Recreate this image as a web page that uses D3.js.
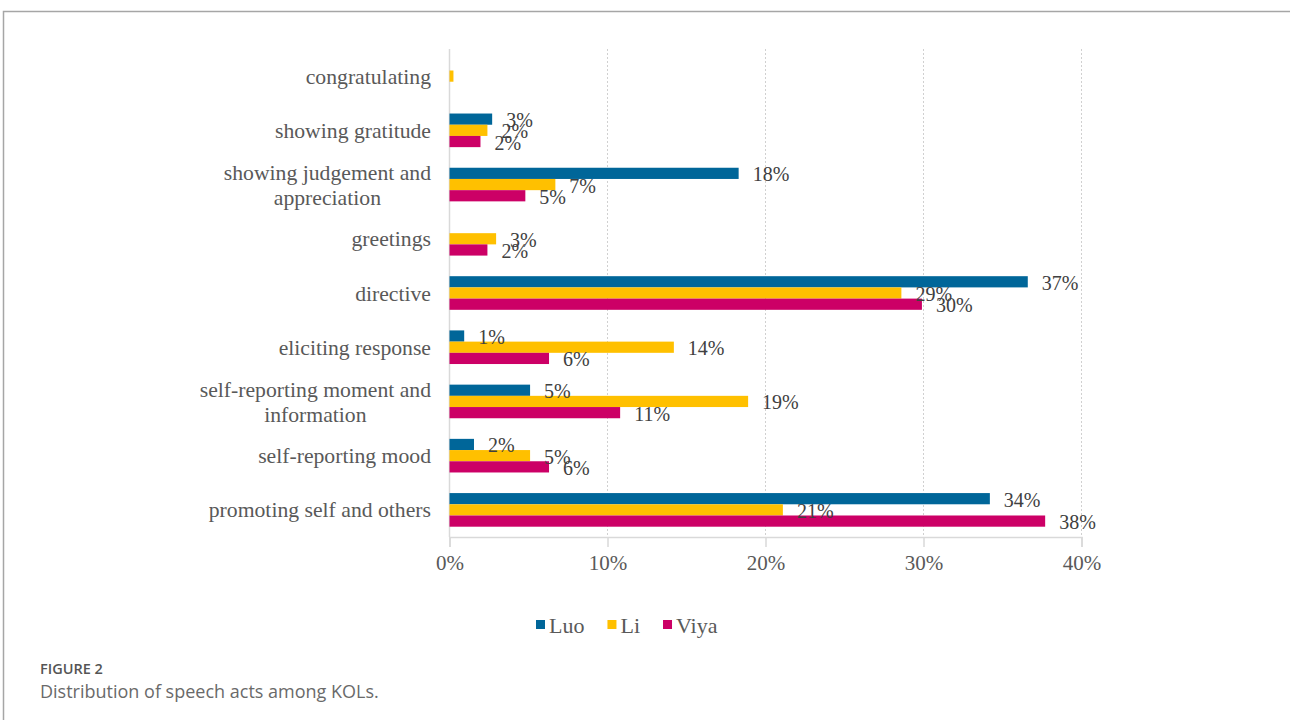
<!DOCTYPE html>
<html>
<head>
<meta charset="utf-8">
<script src="https://cdn.jsdelivr.net/npm/d3@7"></script>
<style>
  html, body { margin: 0; padding: 0; background: #fff; }
  svg { display: block; }
</style>
</head>
<body>
<div id="chart"></div>
<script>
// categories, top to bottom
const categories = [
  'congratulating',
  'showing gratitude',
  'showing judgement and appreciation',
  'greetings',
  'directive',
  'eliciting response',
  'self-reporting moment and information',
  'self-reporting mood',
  'promoting self and others'
];
// line breaks for the long category names
const categoryLines = {
  'showing judgement and appreciation': ['showing judgement and', 'appreciation'],
  'self-reporting moment and information': ['self-reporting moment and', 'information']
};
const seriesNames = ['Luo', 'Li', 'Viya'];
const luo  = [0,     0.027, 0.183, 0,     0.366, 0.0093, 0.051, 0.0155, 0.342];
const li   = [0.0025, 0.024, 0.067, 0.0295, 0.286, 0.142, 0.189, 0.051, 0.211];
const viya = [0,     0.0196, 0.048, 0.024, 0.299, 0.063, 0.108, 0.063, 0.377];
const xTicks = [0, 0.1, 0.2, 0.3, 0.4];
const colors = ['#006699', '#ffc000', '#cc0066'];

const W = 1290, H = 720;
const plot = { left: 449.5, right: 1081.5, top: 49, bottom: 537 };
const serif = '"Liberation Serif", "Times New Roman", serif';

const svg = d3.select('#chart').append('svg')
  .attr('width', W)
  .attr('height', H);

// frame around the figure
svg.append('path')
  .attr('d', `M3.5,${H} V11.5 H${W}`)
  .attr('fill', 'none')
  .attr('stroke', '#a6a6a6')
  .attr('stroke-width', 1.5);

const x = d3.scaleLinear().domain([0, 0.4]).range([plot.left, plot.right]);
const y = d3.scaleBand().domain(categories).range([plot.top, plot.bottom]).padding(0);
const groupPad = y.bandwidth() * 0.19;
const ySub = d3.scaleBand().domain(seriesNames)
  .range([groupPad, y.bandwidth() - groupPad]).padding(0);

// dotted gridlines
svg.append('g')
  .selectAll('line')
  .data(xTicks.slice(1))
  .enter()
  .append('line')
  .attr('x1', d => x(d)).attr('x2', d => x(d))
  .attr('y1', plot.top).attr('y2', plot.bottom)
  .attr('stroke', '#d0d0d0')
  .attr('stroke-width', 1)
  .attr('stroke-dasharray', '2,2');

// vertical axis line at 0
svg.append('line')
  .attr('x1', x(0)).attr('x2', x(0))
  .attr('y1', plot.top).attr('y2', plot.bottom)
  .attr('stroke', '#d9d9d9')
  .attr('stroke-width', 1.5);

// x axis
const xAxis = d3.axisBottom(x)
  .tickValues(xTicks)
  .tickFormat(d3.format('.0%'))
  .tickSize(10)
  .tickPadding(8);

const ax = svg.append('g')
  .attr('transform', `translate(0,${plot.bottom})`)
  .call(xAxis);
ax.select('.domain').attr('stroke', '#d9d9d9').attr('stroke-width', 1.5);
ax.selectAll('.tick line').attr('stroke', '#d9d9d9').attr('stroke-width', 1.5);
ax.selectAll('.tick text')
  .attr('fill', '#595959')
  .style('font-family', serif)
  .style('font-size', '21px');

// category labels
const catG = svg.append('g');
categories.forEach(c => {
  const cy = y(c) + y.bandwidth() / 2;
  const lines = categoryLines[c] || [c];
  const t = catG.append('text')
    .attr('fill', '#595959')
    .style('font-family', serif)
    .style('font-size', '21.7px');
  if (lines.length === 1) {
    t.attr('x', 431).attr('y', cy).attr('dy', '0.35em')
      .attr('text-anchor', 'end').text(c);
  } else {
    const first = t.append('tspan').attr('x', 431).attr('y', cy - 12.5).attr('dy', '0.35em')
      .attr('text-anchor', 'end').text(lines[0]);
    const w = first.node().getComputedTextLength();
    t.append('tspan').attr('x', 431 - w / 2).attr('y', cy + 12.5).attr('dy', '0.35em')
      .attr('text-anchor', 'middle').text(lines[1]);
  }
});

// bars
const table = categories.map((c, i) => ({
  cat: c,
  values: [luo[i], li[i], viya[i]].map((v, j) => ({ key: seriesNames[j], value: v, color: colors[j] }))
}));

const groups = svg.append('g')
  .selectAll('g')
  .data(table)
  .enter()
  .append('g')
  .attr('transform', d => `translate(0,${y(d.cat)})`);

groups.selectAll('rect')
  .data(d => d.values.filter(v => v.value > 0))
  .enter()
  .append('rect')
  .attr('x', x(0))
  .attr('y', d => ySub(d.key))
  .attr('width', d => x(d.value) - x(0))
  .attr('height', ySub.bandwidth())
  .attr('fill', d => d.color);

// data labels
groups.selectAll('text')
  .data(d => d.values.filter(v => v.value >= 0.005))
  .enter()
  .append('text')
  .attr('x', d => x(d.value) + 14)
  .attr('y', d => ySub(d.key) + ySub.bandwidth() / 2 + 1)
  .attr('dy', '0.35em')
  .attr('fill', '#404040')
  .style('font-family', serif)
  .style('font-size', '20px')
  .text(d => Math.round(d.value * 100) + '%');

// legend
const legend = svg.append('g').attr('transform', 'translate(536,0)');
let lx = 0;
seriesNames.forEach((s, i) => {
  legend.append('rect')
    .attr('x', lx).attr('y', 620)
    .attr('width', 9).attr('height', 9)
    .attr('fill', colors[i]);
  const t = legend.append('text')
    .attr('x', lx + 13).attr('y', 625).attr('dy', '0.35em')
    .attr('fill', '#595959')
    .style('font-family', serif)
    .style('font-size', '22px')
    .text(s);
  lx += 13 + t.node().getComputedTextLength() + 23;
});

// caption
svg.append('text')
  .attr('x', 40).attr('y', 674)
  .attr('fill', '#555')
  .style('font-family', '"Open Sans", sans-serif')
  .style('font-size', '14.5px')
  .style('font-weight', 600)
  .text('FIGURE 2');

svg.append('text')
  .attr('x', 40).attr('y', 698)
  .attr('fill', '#6a6a6a')
  .style('font-family', '"Open Sans", sans-serif')
  .style('font-size', '18px')
  .text('Distribution of speech acts among KOLs.');
</script>
</body>
</html>
